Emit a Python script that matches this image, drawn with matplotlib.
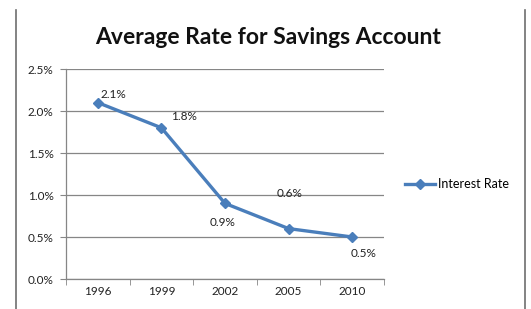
import matplotlib
matplotlib.use("Agg")
import matplotlib.pyplot as plt
from matplotlib.lines import Line2D

years = ["1996", "1999", "2002", "2005", "2010"]
rates = [2.1, 1.8, 0.9, 0.6, 0.5]
labels = ["2.1%", "1.8%", "0.9%", "0.6%", "0.5%"]
yticks = [0.0, 0.5, 1.0, 1.5, 2.0, 2.5]
series_name = "Interest Rate"
title = "Average Rate for Savings Account"

plt.rcParams['font.family'] = ['Lato', 'DejaVu Sans']
W, H = 531, 309
fig = plt.figure(figsize=(W/100, H/100), dpi=100)
fig.patch.set_facecolor('white')

# chart border lines (left/right visible)
fig.add_artist(Line2D([16/W, 16/W], [0, 1-10/H], color='#6e6e6e', lw=1.2))
fig.add_artist(Line2D([525/W, 525/W], [0, 1-10/H], color='#6e6e6e', lw=1.2))

ax = fig.add_axes([66/W, 1-279/H, (384-66)/W, (279-69)/H])
color = '#4A7EBB'
x = list(range(len(years)))
ax.plot(x, rates, color=color, lw=2.4, marker='D', ms=5, mfc=color, mec=color,
        label=series_name, zorder=3)

ax.set_xlim(-0.5, len(years)-0.5)
ax.set_ylim(0, 2.5)
ax.set_yticks(yticks)
ax.set_yticklabels([f"{v:.1f}%" for v in yticks])
ax.set_xticks(x)
ax.set_xticklabels(years)
ax.set_xticks([i-0.5 for i in range(len(years)+1)], minor=True)
ax.tick_params(axis='x', which='major', length=0, pad=5, labelsize=8.5, labelcolor='#222222')
ax.tick_params(axis='x', which='minor', length=4, color='#868686', direction='out')
ax.tick_params(axis='y', length=4, color='#868686', pad=5, labelsize=8.5, labelcolor='#222222')
ax.grid(axis='y', color='#868686', lw=0.9)
ax.set_axisbelow(True)
for s in ['top', 'right']:
    ax.spines[s].set_visible(False)
for s in ['left', 'bottom']:
    ax.spines[s].set_color('#868686')
    ax.spines[s].set_linewidth(0.9)

offsets = [(11, 6), (16, 8), (-2, -14), (1, 25), (8, -12)]
for xi, yi, lab, off in zip(x, rates, labels, offsets):
    ax.annotate(lab, (xi, yi), xytext=off, textcoords='offset points',
                ha='center', va='center', fontsize=8.5, color='#222222')

fig.text(268/W, 1-38/H, title, ha='center', va='center', fontsize=16.5,
         fontweight='bold', color='#111111')

fig.legend(handles=[Line2D([0], [0], color=color, lw=2.4, marker='D', ms=5)],
           labels=[series_name], loc='center left', bbox_to_anchor=(405/W, 1-184/H),
           frameon=False, fontsize=9, handlelength=2.4, handletextpad=0.2,
           borderaxespad=0, borderpad=0)

fig.savefig("out.png", dpi=100, facecolor='white')
